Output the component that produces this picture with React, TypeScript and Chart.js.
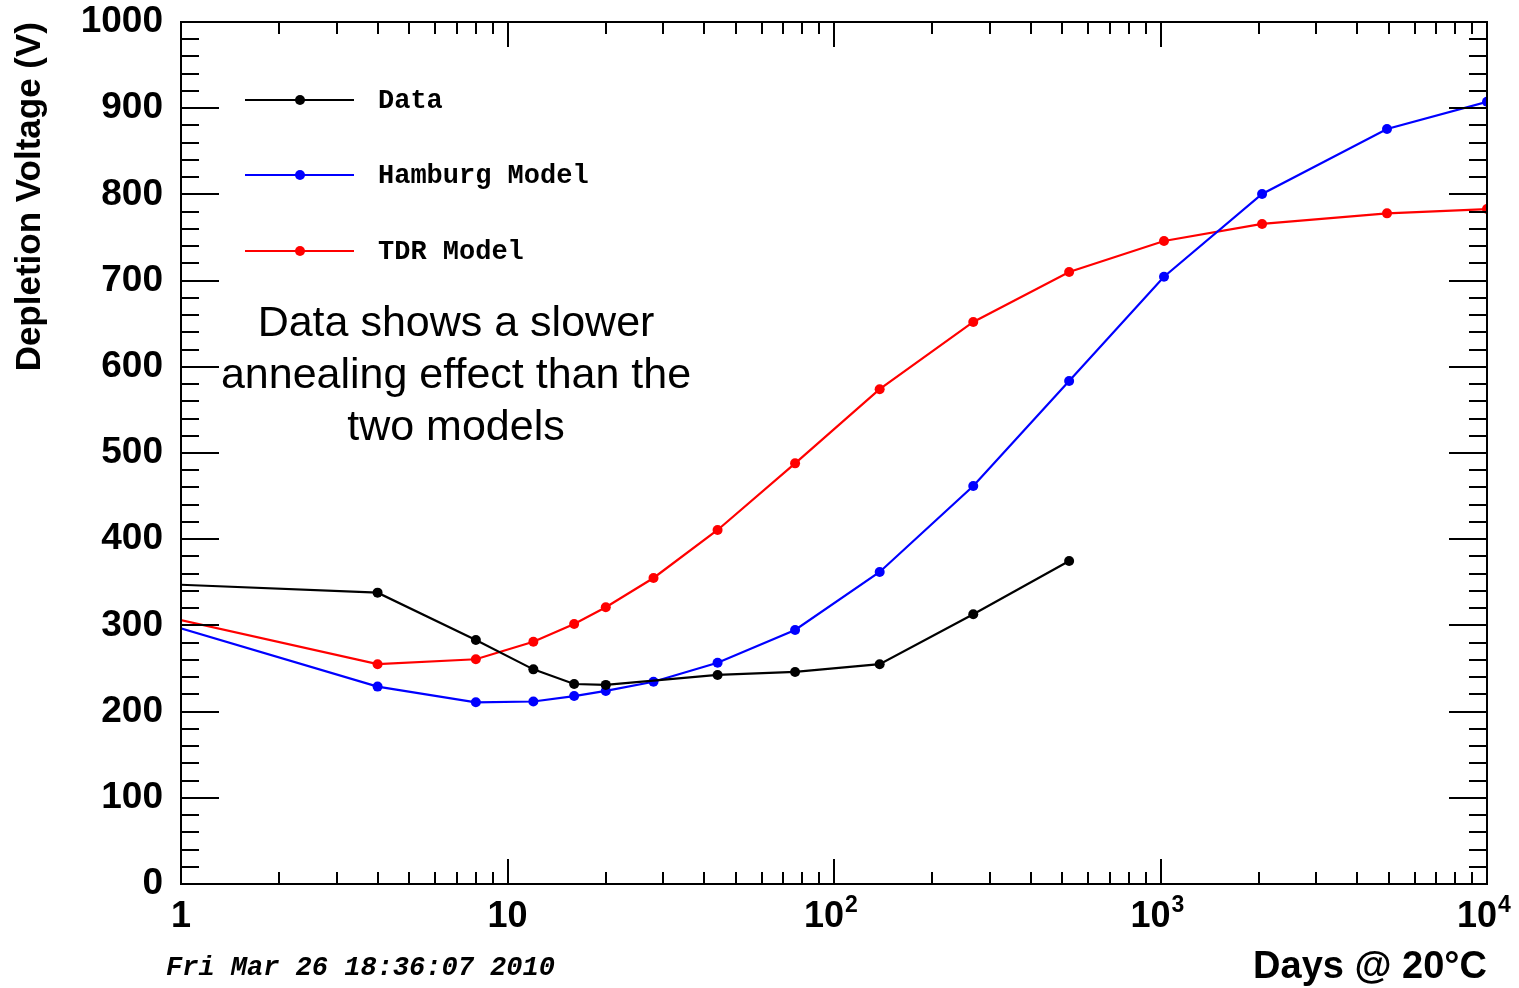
import React, { useEffect, useRef } from "react";
import { Chart, registerables } from "chart.js";

Chart.register(...registerables);

// ---- data ----
const dataDays = [0.5, 4, 8, 12, 16, 20, 44, 76, 138, 267, 525];
const dataVoltage = [351.7, 338, 283, 249, 232, 231, 242.5, 246, 255, 313, 374.7];

const modelDays = [0.5, 4, 8, 12, 16, 20, 28, 44, 76, 138, 267, 525, 1025, 2047, 4940, 10000];
const hamburgVoltage = [330.4, 229, 210.8, 211.7, 218, 224, 234.6, 256.7, 294.7, 362, 461.7, 583.5, 704.5, 800.5, 875.9, 907.5];
const tdrVoltage = [331.5, 255, 260.7, 281, 301.6, 321, 355, 410.7, 488, 574, 652, 710, 746, 765.7, 778, 783];

const seriesNames = ["Data", "Hamburg Model", "TDR Model"];
const seriesColors = ["#000000", "#0000ff", "#ff0000"];

const xTickValues = [1, 10, 100, 1000, 10000];
const xTickBases = ["1", "10", "10", "10", "10"];
const xTickExponents = ["", "", "2", "3", "4"];
const yTickValues = [0, 100, 200, 300, 400, 500, 600, 700, 800, 900, 1000];

const xTitle = "Days @ 20\u00b0C";
const yTitle = "Depletion Voltage (V)";
const noteLines = ["Data shows a slower", "annealing effect than the", "two models"];
const dateStamp = "Fri Mar 26 18:36:07 2010";

const SANS = '"Liberation Sans", Arial, Helvetica, sans-serif';
const MONO = '"Liberation Mono", "Courier New", Courier, monospace';

const toPoints = (xs: number[], ys: number[]) => xs.map((x, i) => ({ x, y: ys[i] }));

const zeroPadding = (scale: any) => {
  scale.paddingLeft = 0;
  scale.paddingRight = 0;
  scale.paddingTop = 0;
  scale.paddingBottom = 0;
};

const rootDecor = {
  id: "rootDecor",
  afterDatasetsDraw(chart: any) {
    const { ctx, chartArea, scales } = chart;
    const { left, right, top, bottom } = chartArea;
    const x = scales.x;
    const y = scales.y;
    ctx.save();
    ctx.strokeStyle = "#000";
    ctx.lineWidth = 2;
    ctx.beginPath();
    // y ticks (major every 100, minor every 20), left and right
    for (let v = 0; v <= 1000; v += 20) {
      const py = Math.round(y.getPixelForValue(v));
      const len = v % 100 === 0 ? 38 : 18;
      ctx.moveTo(left, py);
      ctx.lineTo(left + len, py);
      ctx.moveTo(right, py);
      ctx.lineTo(right - len, py);
    }
    // x ticks (decades major, 2..9 minor), bottom and top
    for (let d = 1; d <= 10000; d *= 10) {
      for (let m = 1; m <= 9; m++) {
        const v = d * m;
        if (v > 10000) break;
        const px = Math.round(x.getPixelForValue(v));
        const len = m === 1 ? 25 : 12;
        ctx.moveTo(px, bottom);
        ctx.lineTo(px, bottom - len);
        ctx.moveTo(px, top);
        ctx.lineTo(px, top + len);
      }
    }
    ctx.stroke();
    ctx.strokeRect(left, top, right - left, bottom - top);

    // exponents of the x tick labels
    ctx.fillStyle = "#000";
    xTickValues.forEach((v, i) => {
      const exp = xTickExponents[i];
      if (!exp) return;
      ctx.font = `bold 36px ${SANS}`;
      const full = ctx.measureText(xTickBases[i] + "  ").width;
      const base = ctx.measureText(xTickBases[i]).width;
      const px = x.getPixelForValue(v);
      const baseRight = px - full / 2 + base;
      ctx.font = `bold 23px ${SANS}`;
      ctx.textAlign = "left";
      ctx.textBaseline = "alphabetic";
      ctx.fillText(exp, baseRight + 1, 912);
    });

    // legend
    const legendY = [100, 175, 251];
    seriesNames.forEach((name, i) => {
      const ly = legendY[i];
      ctx.strokeStyle = seriesColors[i];
      ctx.lineWidth = 2;
      ctx.beginPath();
      ctx.moveTo(245, ly);
      ctx.lineTo(354, ly);
      ctx.stroke();
      ctx.fillStyle = seriesColors[i];
      ctx.beginPath();
      ctx.arc(300, ly, 5, 0, Math.PI * 2);
      ctx.fill();
      ctx.fillStyle = "#000";
      ctx.font = `bold 27px ${MONO}`;
      ctx.textAlign = "left";
      ctx.textBaseline = "middle";
      ctx.fillText(name, 378, ly + 1);
    });

    // annotation
    ctx.fillStyle = "#000";
    ctx.font = `43px ${SANS}`;
    ctx.textAlign = "center";
    ctx.textBaseline = "middle";
    noteLines.forEach((line, i) => {
      ctx.fillText(line, 456, 324 + i * 52);
    });

    // date stamp
    ctx.font = `italic bold 27px ${MONO}`;
    ctx.textAlign = "left";
    ctx.textBaseline = "middle";
    ctx.fillText(dateStamp, 166, 968);
    ctx.restore();
  },
};

export default function App() {
  const canvasRef = useRef<HTMLCanvasElement | null>(null);

  useEffect(() => {
    const canvas = canvasRef.current;
    if (!canvas) return;
    const chart = new Chart(canvas, {
      type: "line",
      data: {
        datasets: [
          { label: seriesNames[0], data: toPoints(dataDays, dataVoltage) },
          { label: seriesNames[1], data: toPoints(modelDays, hamburgVoltage) },
          { label: seriesNames[2], data: toPoints(modelDays, tdrVoltage) },
        ].map((ds, i) => ({
          ...ds,
          borderColor: seriesColors[i],
          backgroundColor: seriesColors[i],
          pointBackgroundColor: seriesColors[i],
          pointBorderColor: seriesColors[i],
          pointBorderWidth: 0,
          pointRadius: 5,
          borderWidth: 2.2,
          tension: 0,
          fill: false,
        })),
      },
      options: {
        animation: false,
        responsive: false,
        devicePixelRatio: 1,
        events: [],
        layout: { padding: { left: 0, top: 22, right: 32, bottom: 0 } },
        plugins: { legend: { display: false }, tooltip: { enabled: false } },
        scales: {
          x: {
            type: "logarithmic",
            min: 1,
            max: 10000,
            afterBuildTicks: (scale: any) => {
              scale.ticks = xTickValues.map((v) => ({ value: v }));
            },
            afterFit: (scale: any) => {
              scale.height = 104;
              zeroPadding(scale);
            },
            grid: { display: false, drawTicks: false },
            border: { display: false },
            ticks: {
              autoSkip: false,
              maxRotation: 0,
              padding: 11,
              color: "#000",
              font: { family: SANS, size: 36, weight: "bold" },
              callback: (value: any) => {
                const idx = xTickValues.indexOf(Number(value));
                if (idx < 0) return "";
                return xTickExponents[idx] ? xTickBases[idx] + "  " : xTickBases[idx];
              },
            },
            title: {
              display: true,
              text: xTitle,
              align: "end",
              color: "#000",
              font: { family: SANS, size: 38, weight: "bold", lineHeight: 1.1 },
              padding: { top: 0, bottom: 0 },
            },
          },
          y: {
            type: "linear",
            min: 0,
            max: 1000,
            afterBuildTicks: (scale: any) => {
              scale.ticks = yTickValues.map((v) => ({ value: v }));
            },
            afterFit: (scale: any) => {
              scale.width = 181;
              zeroPadding(scale);
            },
            grid: { display: false, drawTicks: false },
            border: { display: false },
            ticks: {
              padding: 18,
              color: "#000",
              font: { family: SANS, size: 37, weight: "bold", lineHeight: 1 },
              callback: (value: any) => String(value),
            },
            title: {
              display: true,
              text: yTitle,
              align: "end",
              color: "#000",
              font: { family: SANS, size: 35, weight: "bold" },
              padding: { top: 9, bottom: 0 },
            },
          },
        },
      },
      plugins: [rootDecor],
    } as any);
    return () => chart.destroy();
  }, []);

  return (
    <div style={{ position: "absolute", left: 0, top: 0, width: 1519, height: 988, background: "#fff" }}>
      <canvas ref={canvasRef} width={1519} height={988} style={{ display: "block" }} />
    </div>
  );
}
